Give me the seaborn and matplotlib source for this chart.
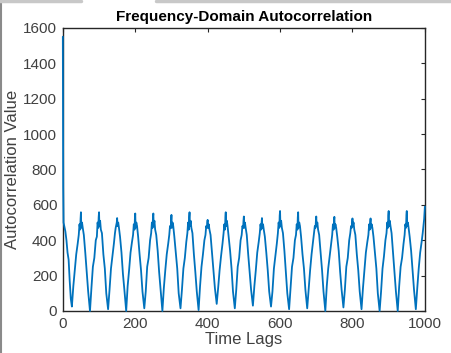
import numpy as np
import pandas as pd
import matplotlib.pyplot as plt
import seaborn as sns
from matplotlib.lines import Line2D

# lags (start of curve, then one row per period)
lags = [0, 1, 2, 4, 7, 10, 13, 16, 19, 22,
        25, 29, 33, 37, 41, 44, 46, 48, 49, 50, 51, 53, 55, 58, 62, 66, 70,
        75, 79, 83, 87, 91, 94, 96, 98, 99, 100, 101, 103, 105, 108, 112, 116, 120,
        125, 129, 133, 137, 141, 144, 146, 148, 149, 150, 151, 153, 155, 158, 162, 166, 170,
        175, 179, 183, 187, 191, 194, 196, 198, 199, 200, 201, 203, 205, 208, 212, 216, 220,
        225, 229, 233, 237, 241, 244, 246, 248, 249, 250, 251, 253, 255, 258, 262, 266, 270,
        275, 279, 283, 287, 291, 294, 296, 298, 299, 300, 301, 303, 305, 308, 312, 316, 320,
        325, 329, 333, 337, 341, 344, 346, 348, 349, 350, 351, 353, 355, 358, 362, 366, 370,
        375, 379, 383, 387, 391, 394, 396, 398, 399, 400, 401, 403, 405, 408, 412, 416, 420,
        425, 429, 433, 437, 441, 444, 446, 448, 449, 450, 451, 453, 455, 458, 462, 466, 470,
        475, 479, 483, 487, 491, 494, 496, 498, 499, 500, 501, 503, 505, 508, 512, 516, 520,
        525, 529, 533, 537, 541, 544, 546, 548, 549, 550, 551, 553, 555, 558, 562, 566, 570,
        575, 579, 583, 587, 591, 594, 596, 598, 599, 600, 601, 603, 605, 608, 612, 616, 620,
        625, 629, 633, 637, 641, 644, 646, 648, 649, 650, 651, 653, 655, 658, 662, 666, 670,
        675, 679, 683, 687, 691, 694, 696, 698, 699, 700, 701, 703, 705, 708, 712, 716, 720,
        725, 729, 733, 737, 741, 744, 746, 748, 749, 750, 751, 753, 755, 758, 762, 766, 770,
        775, 779, 783, 787, 791, 794, 796, 798, 799, 800, 801, 803, 805, 808, 812, 816, 820,
        825, 829, 833, 837, 841, 844, 846, 848, 849, 850, 851, 853, 855, 858, 862, 866, 870,
        875, 879, 883, 887, 891, 894, 896, 898, 899, 900, 901, 903, 905, 908, 912, 916, 920,
        925, 929, 933, 937, 941, 944, 946, 948, 949, 950, 951, 953, 955, 958, 962, 966, 970,
        975, 979, 983, 987, 991, 994, 996, 998, 999, 1000]

acf = [1550, 700, 500, 480, 450, 400, 330, 290, 170, 70,
       25, 140, 230, 320, 380, 430, 490, 460, 520, 558, 470, 500, 470, 430, 330, 220, 110,
       0, 130, 250, 300, 400, 420, 500, 470, 530, 558, 480, 510, 460, 440, 320, 240, 100,
       10, 120, 240, 310, 380, 440, 470, 490, 500, 525, 480, 500, 470, 420, 330, 210, 120,
       0, 140, 230, 330, 390, 430, 490, 460, 520, 551, 470, 500, 480, 420, 320, 230, 110,
       15, 110, 250, 300, 400, 440, 500, 470, 530, 551, 480, 510, 460, 430, 340, 220, 120,
       0, 130, 230, 320, 380, 430, 480, 470, 510, 543, 470, 500, 480, 420, 330, 240, 100,
       15, 120, 240, 300, 390, 440, 500, 460, 530, 558, 480, 510, 470, 440, 320, 220, 110,
       5, 140, 250, 320, 400, 430, 480, 470, 500, 515, 470, 490, 460, 430, 330, 230, 130,
       40, 130, 230, 310, 380, 440, 490, 460, 530, 558, 480, 510, 480, 420, 340, 240, 110,
       15, 120, 250, 300, 400, 430, 480, 470, 510, 534, 470, 500, 470, 430, 320, 220, 120,
       30, 140, 230, 330, 390, 440, 490, 460, 500, 525, 470, 490, 460, 420, 330, 230, 110,
       25, 110, 240, 310, 380, 440, 500, 470, 540, 565, 480, 510, 470, 440, 340, 220, 100,
       10, 130, 250, 300, 400, 430, 490, 460, 530, 558, 470, 500, 480, 420, 320, 240, 120,
       15, 120, 230, 320, 390, 440, 480, 470, 510, 534, 480, 500, 460, 430, 330, 230, 110,
       0, 140, 240, 310, 380, 430, 490, 460, 510, 532, 470, 490, 470, 420, 340, 220, 120,
       20, 120, 250, 300, 400, 440, 480, 470, 500, 523, 480, 500, 460, 430, 320, 230, 110,
       10, 130, 230, 330, 390, 430, 490, 460, 500, 523, 470, 490, 470, 420, 330, 240, 100,
       0, 110, 240, 310, 400, 440, 500, 470, 540, 565, 480, 510, 480, 440, 330, 220, 110,
       0, 140, 250, 300, 380, 430, 490, 470, 540, 565, 480, 500, 470, 420, 340, 230, 120,
       10, 130, 240, 330, 390, 440, 480, 520, 560, 590]

x_ticks = [0, 200, 400, 600, 800, 1000]
y_ticks = [0, 200, 400, 600, 800, 1000, 1200, 1400, 1600]

df = pd.DataFrame({'lag': lags, 'value': acf})

sns.set_style('white')
plt.rcParams['font.family'] = ['Liberation Sans', 'DejaVu Sans']

fig = plt.figure(figsize=(4.52, 3.53), dpi=100)
ax = fig.add_axes([0.139, 0.119, 0.801, 0.802])

sns.lineplot(data=df, x='lag', y='value', ax=ax, color='#0072BD',
             linewidth=1.3, zorder=3, clip_on=False)

ax.set_xlim(0, 1000)
ax.set_ylim(0, 1600)
ax.set_xticks(x_ticks)
ax.set_yticks(y_ticks)
ax.tick_params(direction='in', length=3, width=0.8, colors='#262626',
               labelsize=11, top=True, right=True, pad=4)
ax.tick_params(labelcolor='#404040')
for s in ax.spines.values():
    s.set_color('#262626')
    s.set_linewidth(1.0)

ax.set_title('Frequency-Domain Autocorrelation', fontsize=11, fontweight='bold',
             color='black', pad=5)
ax.set_xlabel('Time Lags', fontsize=12, color='#404040', labelpad=1)
ax.set_ylabel('Autocorrelation Value', fontsize=12, color='#404040', labelpad=2)

# screenshot border bits
fig.add_artist(Line2D([0.003, 0.003], [0.0, 1.0], transform=fig.transFigure,
                      color='#8a8a8a', linewidth=1.5))
fig.add_artist(Line2D([0.0, 0.18], [0.996, 0.996], transform=fig.transFigure,
                      color='#c8c8c8', linewidth=2.5))
fig.add_artist(Line2D([0.345, 1.0], [0.996, 0.996], transform=fig.transFigure,
                      color='#c8c8c8', linewidth=2.5))

fig.savefig('out.png', dpi=100)
plt.close()
